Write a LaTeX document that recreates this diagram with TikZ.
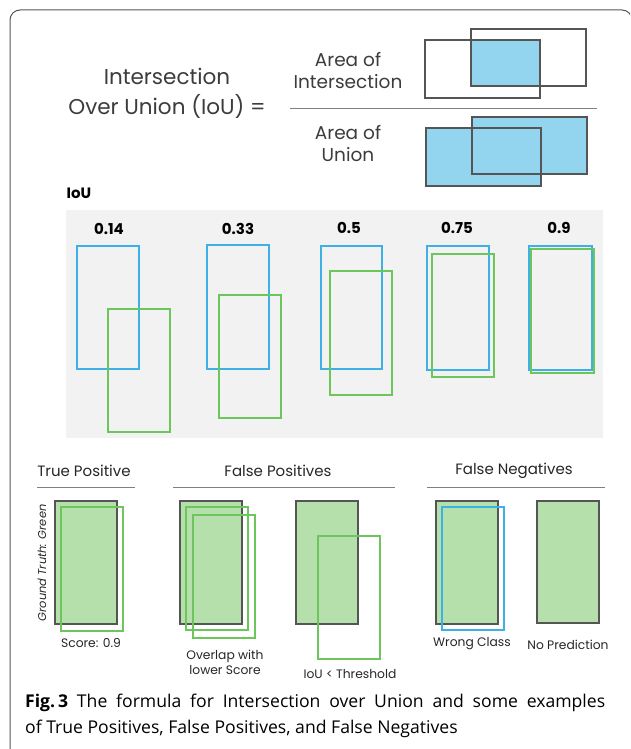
\documentclass[tikz,border=0pt]{standalone}
\usepackage{fontspec}
\setmainfont{Poppins}
\newfontfamily\capfont{Open Sans}

\definecolor{boxgray}{HTML}{555555}
\definecolor{skyfill}{HTML}{93D4EF}
\definecolor{panelgray}{HTML}{F2F2F2}
\definecolor{predblue}{HTML}{3DB0E6}
\definecolor{predgreen}{HTML}{6DC65B}
\definecolor{gtfill}{HTML}{B5DFAB}
\definecolor{textgray}{HTML}{3C3C3C}

\begin{document}
\begin{tikzpicture}[
		x=1pt, y=-1pt,
		darkbox/.style={draw=boxgray, line width=1.5pt},
		bluebox/.style={draw=predblue, line width=1.5pt},
		greenbox/.style={draw=predgreen, line width=1.5pt},
		gtbox/.style={draw=boxgray, fill=gtfill, line width=1.8pt},
		rule/.style={draw=gray, line width=0.9pt},
		formula/.style={align=center, text=textgray, font=\fontsize{21.5}{30}\selectfont},
		part/.style={align=center, text=textgray, font=\fontsize{18.5}{22}\selectfont},
		score/.style={font=\bfseries\fontsize{15}{18}\selectfont},
		heading/.style={text=black!85, font=\fontsize{15}{18}\selectfont},
		small/.style={align=center, text=black!85, font=\fontsize{12.3}{15}\selectfont},
		capline/.style={anchor=base west, inner sep=0, font=\capfont\fontsize{17.6}{26}\selectfont}
	]
	\useasboundingbox (0,0) rectangle (630,749);
	\begin{scope}
		\clip (0,0) rectangle (630,749);
		\draw[boxgray, line width=1pt, rounded corners=10pt] (10,10) rectangle (632,760);
	\end{scope}

	% formula
	\node[formula] (title) at (167,93) {Intersection\\Over Union (IoU) =};
	\node[part] (numer) at (348,71) {Area of\\Intersection};
	\node[part] (denom) at (348,144) {Area of\\Union};
	\draw[rule] (290,108) -- (597,108);
	\fill[skyfill] (471,40) rectangle (540,86);
	\draw[darkbox] (425,40) rectangle (540,98);
	\draw[darkbox] (471,29) rectangle (586,86);
	\fill[skyfill] (472,117) rectangle (587,174);
	\fill[skyfill] (426,128) rectangle (541,186);
	\draw[darkbox] (472,117) rectangle (587,174);
	\draw[darkbox] (426,128) rectangle (541,186);

	% IoU examples
	\node[score] (ioulbl) at (79,193) {IoU};
	\fill[panelgray] (66,210) rectangle (603,438);
	\node[score] (v1) at (109,229) {0.14};
	\node[score] (v2) at (238,229) {0.33};
	\node[score] (v3) at (349,228) {0.5};
	\node[score] (v4) at (457,228) {0.75};
	\node[score] (v5) at (559,228) {0.9};
	\draw[bluebox] (77,246) rectangle (139,369);
	\draw[greenbox] (108,309) rectangle (170,432);
	\draw[bluebox] (207,245) rectangle (269,369);
	\draw[greenbox] (219,295) rectangle (281,418);
	\draw[bluebox] (321,246) rectangle (382,369);
	\draw[greenbox] (330,271) rectangle (392,395);
	\draw[bluebox] (427,246) rectangle (489,370);
	\draw[greenbox] (432,254) rectangle (494,377);
	\draw[bluebox] (529,246) rectangle (592,370);
	\draw[greenbox] (531,249) rectangle (594,373);

	% TP / FP / FN
	\node[heading] (tp) at (84,471) {True Positive};
	\node[heading] (fp) at (278,471) {False Positives};
	\node[heading] (fn) at (514,471) {False Negatives};
	\draw[rule] (37,487) -- (135,487);
	\draw[rule] (173,487) -- (395,487);
	\draw[rule] (427,487) -- (605,487);
	\node[small, rotate=90, font=\itshape\fontsize{11.4}{14}\selectfont] (gt) at (42,563) {Ground Truth: Green};

	\draw[gtbox] (55,501) rectangle (117,624);
	\draw[greenbox] (61,507) rectangle (123,631);
	\node[small] (tpscore) at (91,643) {Score: 0.9};

	\draw[gtbox] (180,501) rectangle (242,624);
	\draw[greenbox] (186,507) rectangle (248,630);
	\draw[greenbox] (193,515) rectangle (255,638);
	\node[small] (overlap) at (225,662) {Overlap with\\lower Score};

	\draw[gtbox] (296,501) rectangle (358,624);
	\draw[greenbox] (318,536) rectangle (380,659);
	\node[small] (thresh) at (350,674) {IoU < Threshold};

	\draw[gtbox] (436,501) rectangle (498,624);
	\draw[bluebox] (442,507) rectangle (504,630);
	\node[small] (wrong) at (472,644) {Wrong Class};

	\draw[gtbox] (537,501) rectangle (599,623);
	\node[small] (nopred) at (568,645) {No Prediction};

	% caption
	\node[capline] (cap1) at (25,707) {\hbox to 580pt{\textbf{Fig.\,3}\enspace The formula for Intersection over Union and some examples}};
	\node[capline] (cap2) at (25,733) {of True Positives, False Positives, and False Negatives};
\end{tikzpicture}
\end{document}
